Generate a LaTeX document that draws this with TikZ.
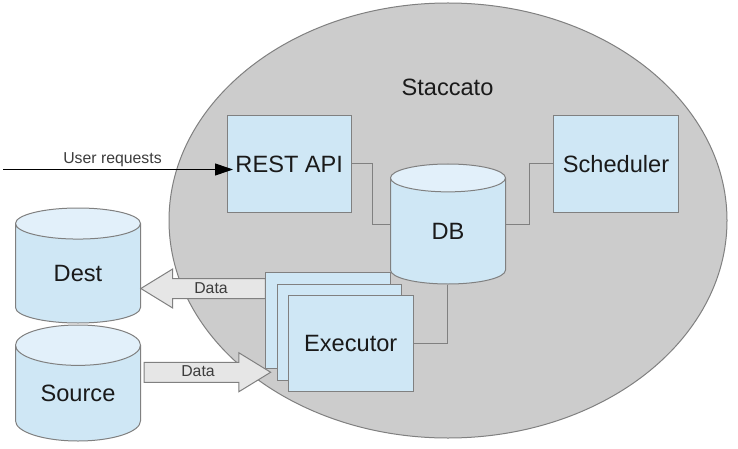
\documentclass[tikz,border=0pt]{standalone}
\usepackage{fontspec}
\setmainfont{Liberation Sans}
\usetikzlibrary{shapes.geometric,shapes.arrows,arrows.meta}
\definecolor{edgegray}{HTML}{808080}
\definecolor{bodyblue}{HTML}{CFE7F5}
\definecolor{capblue}{HTML}{E2F0FA}
\definecolor{disc}{HTML}{CCCCCC}
\definecolor{flow}{HTML}{E6E6E6}
\definecolor{ink}{HTML}{1A1A1A}
\tikzset{
  big/.style={font=\fontsize{23.6}{26}\selectfont,text=ink},
  small/.style={font=\fontsize{15.8}{18}\selectfont,text=ink!85},
  box/.style={draw=edgegray,fill=bodyblue,line width=1pt,inner sep=0pt,minimum width=124.5pt,minimum height=96pt,big},
  can/.style={draw=edgegray,line width=1pt,inner sep=0pt,shape=cylinder,shape border rotate=90,anchor=shape center,
    cylinder uses custom fill,cylinder body fill=bodyblue,cylinder end fill=capblue,big},
  flowarrow/.style={draw=edgegray,fill=flow,line width=1pt,shape=single arrow,inner sep=0pt,
    text height=19pt,text depth=0pt,text width=0pt,
    single arrow tip angle=63,single arrow head extend=9.5pt,single arrow head indent=0pt},
  wire/.style={draw=edgegray,line width=1pt}
}
\begin{document}
\begin{tikzpicture}[x=1pt,y=-1pt]
\useasboundingbox (0,0) rectangle (738,449);
\fill[white] (0,0) rectangle (738,449);
\node[draw=edgegray,fill=disc,line width=1pt,shape=ellipse,inner sep=0pt,minimum width=558pt,minimum height=435pt] (staccatodisc) at (448,220.5) {};
\node[big] (title) at (447.5,87) {Staccato};
\node[box] (rest) at (289.25,164) {REST API};
\node[box,minimum width=125pt] (sched) at (616,164) {Scheduler};
\node[can,minimum width=115pt,minimum height=120pt,aspect=0.85] (db) at (448,224) {DB};
\node[can,minimum width=125pt,minimum height=115pt,aspect=0.64] (dest) at (78,265.5) {Dest};
\node[can,minimum width=125pt,minimum height=116pt,aspect=0.54] (source) at (78,383) {Source};
\node[box,minimum width=125pt,minimum height=95.5pt] (exa) at (328,320.25) {};
\node[flowarrow,shape border rotate=180,minimum height=124.5pt] (destarrow) at (211.25,288.5) {};
\node[flowarrow,minimum height=126.5pt] (srcarrow) at (199.25,372.25) {};
\node[box,minimum width=124pt] (exb) at (339.5,332.25) {};
\node[box,minimum width=125.5pt] (exc) at (350.75,343.5) {Executor};
\node[small] (datatop) at (211,288.5) {Data};
\node[small] (databottom) at (198,371.5) {Data};
\node[small] (userlabel) at (112.5,160) {User requests};
\coordinate (ja) at (372,164);
\coordinate (jb) at (529.5,164);
\coordinate (jc) at (447.5,343.5);
\coordinate (start) at (3,169.5);
\coordinate (tip) at (233,169.5);
\draw[wire] (rest.east) -- (ja) -- (ja |- db.shape center) -- (db.west |- db.shape center);
\draw[wire] (db.east |- db.shape center) -- (jb |- db.shape center) -- (jb) -- (sched.west);
\draw[wire] (jc |- db.south) -- (jc) -- (exc.east);
\draw[line width=1pt,-{Triangle[length=18pt,width=12pt]},shorten >=0pt] (start) -- (tip);
\end{tikzpicture}
\end{document}
